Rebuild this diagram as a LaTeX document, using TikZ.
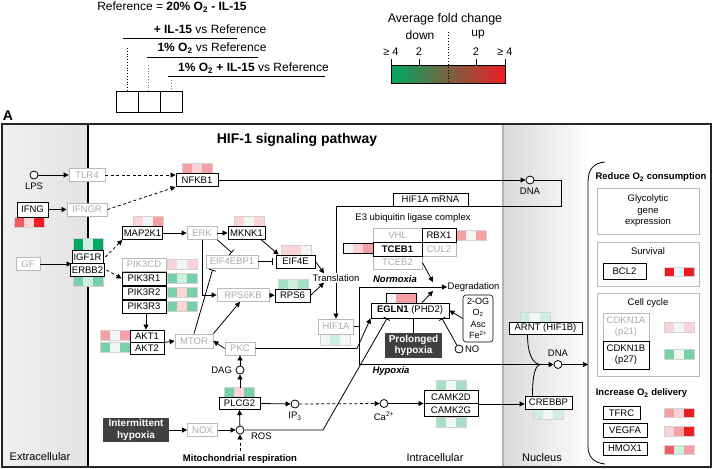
\documentclass[tikz,border=0pt]{standalone}
\usepackage{fontspec}
\setmainfont{Liberation Sans}
\usetikzlibrary{arrows.meta, positioning}

\definecolor{hR}{RGB}{237,28,36}
\definecolor{hRp}{RGB}{239,90,100}
\definecolor{hP}{RGB}{245,160,165}
\definecolor{hPp}{RGB}{250,212,214}
\definecolor{hW}{RGB}{242,246,244}
\definecolor{hGp}{RGB}{205,238,224}
\definecolor{hGm}{RGB}{165,224,198}
\definecolor{hG}{RGB}{120,208,170}
\definecolor{hGd}{RGB}{0,168,96}

% three fold change cells, top left corner at (#2,#3)
\newcommand{\hmap}[6][10]{%
  \foreach \hc [count = \hi from 0] in {#4,#5,#6}
    \fill[\hc] (#2+\hi*10,#3) rectangle ++(10,#1);
  \draw[hmline] (#2,#3) rectangle ++(30,#1);}

\begin{document}
\begin{tikzpicture}[x = 1pt, y = -1pt, font = \fontsize{9.5}{11}\selectfont,
    box/.style = {draw, fill = white, line width = 0.9pt, inner sep = 1pt, minimum height = 13pt},
    gbox/.style = {box, draw = gray!55, text = gray!65, line width = 0.8pt},
    dbox/.style = {fill = black!75, text = white, align = center, inner sep = 2pt,
        font = \fontsize{10}{11.5}\selectfont\bfseries},
    mol/.style = {circle, draw, fill = white, minimum size = 8pt, inner sep = 0pt, line width = 0.8pt},
    lbl/.style = {inner sep = 0.5pt},
    bf/.style = {lbl, font = \fontsize{9.5}{11}\selectfont\bfseries},
    cmp/.style = {lbl, font = \fontsize{11}{13}\selectfont},
    hdr/.style = {lbl, font = \fontsize{12}{14}\selectfont},
    panel/.style = {draw = gray!55, line width = 0.7pt},
    hmline/.style = {draw = gray!35, line width = 0.4pt},
    con/.style = {line width = 0.8pt},
    act/.style = {con, -{Triangle[length = 5pt, width = 5pt]}},
    inh/.style = {con, -{Bar[width = 7pt]}},
    ind/.style = {act, dash pattern = on 3pt off 2.5pt}]
\useasboundingbox (0,0) rectangle (713,469);

% legend
\node[hdr] (ref) at (172,7) {Reference = \textbf{20\% O\textsubscript{2} - IL-15}};
\node[hdr] (cmp1) at (210,29) {\textbf{+ IL-15} vs Reference};
\node[hdr] (cmp2) at (212,48) {\textbf{1\% O\textsubscript{2}} vs Reference};
\node[hdr] (cmp3) at (253.5,68) {\textbf{1\% O\textsubscript{2} + IL-15} vs Reference};
\draw[con] (123,38) -- (237,38);
\draw[con] (147,57) -- (258,57);
\draw[con] (168,76) -- (325,76);
\draw[dotted, line width = 0.8pt] (127,48) -- (127,91);
\draw[dotted, line width = 0.8pt, gray] (148,65) -- (148,91);
\draw[dotted, line width = 0.8pt, gray] (171,80) -- (171,91);
\draw[con] (116,91) rectangle (182,112) (138,91) -- (138,112) (160,91) -- (160,112);

\node[hdr, font = \fontsize{12.5}{14}\selectfont] (avg) at (445,19) {Average fold change};
\node[hdr] (down) at (420,35) {down};
\node[hdr] (up) at (478,35) {up};
\foreach \tx/\tl [count = \ti] in {391/{≥ 4}, 419/2, 476/2, 505/{≥ 4}} {
  \node[lbl, font = \fontsize{11}{13}\selectfont] (tick\ti) at (\tx,52) {\tl};
  \draw[con] (\tx,59) -- (\tx,65);
}
\shade[left color = hGd, middle color = white, right color = hR] (391,65) rectangle (505,83);
\draw[con] (391,65) rectangle (505,83);
\draw[dotted, line width = 0.9pt] (448,32) -- (448,83);

\node[lbl, font = \fontsize{14}{16}\selectfont\bfseries] (panelA) at (8,116) {A};

% compartments
\shade[left color = gray!12, right color = gray!22] (2,124) rectangle (88,467);
\shade[left color = gray!30, right color = white] (503,124) rectangle (592,467);
\draw[line width = 2.2pt] (88,124) -- (88,467);
\draw[line width = 2.6pt, gray!60] (503,124) -- (503,467);
\draw[line width = 1.3pt, black!85] (2,124) rectangle (711,467);
\node[lbl, font = \fontsize{14}{16}\selectfont\bfseries] (title) at (297,140) {HIF-1 signaling pathway};
\node[cmp] (extra) at (40,457) {Extracellular};
\node[cmp] (intra) at (435,458) {Intracellular};
\node[cmp] (nucl) at (542,458) {Nucleus};

% fold changes
\hmap{182}{163.5}{hP}{hPp}{hP}
\hmap{14}{217}{hRp}{hPp}{hR}
\hmap[12]{73}{238.5}{hGd}{hGp}{hGd}
\hmap{73}{276.5}{hG}{hGp}{hG}
\hmap{133}{216.5}{hPp}{hW}{hP}
\hmap{234}{216.5}{hPp}{hW}{hPp}
\hmap{281}{245}{hPp}{hPp}{hW}
\hmap{278}{279}{hGm}{hGp}{hGm}
\hmap{167}{259.5}{hPp}{hW}{hPp}
\hmap{167}{273.5}{hG}{hGp}{hG}
\hmap{167}{287.5}{hG}{hPp}{hG}
\hmap{167}{301.5}{hG}{hPp}{hG}
\hmap{100}{330}{hP}{hW}{hP}
\hmap{100}{342}{hG}{hW}{hG}
\hmap{224}{387.5}{hG}{hPp}{hG}
\hmap[11]{320}{334}{hW}{hGp}{hW}
\hmap{436}{380}{hGm}{hW}{hGm}
\hmap{436}{417}{hGm}{hW}{hGm}
\hmap{456}{230}{hP}{hW}{hP}
\hmap{343}{243.5}{hW}{hPp}{hP}
\hmap{386}{293}{hW}{hP}{hP}
\draw[con] (343,243.5) rectangle ++(30,10) (386,293) rectangle ++(30,10);
\hmap{520}{312}{hGp}{hW}{hGp}
\hmap{533}{409}{hGp}{hW}{hGp}
\hmap[9]{664}{267}{hR}{hW}{hR}
\hmap{664}{322}{hPp}{hW}{hPp}
\hmap{664}{349.5}{hG}{hW}{hG}
\hmap[9]{664}{408.5}{hP}{hPp}{hR}
\hmap{664}{426.5}{hPp}{hP}{hR}
\hmap[9]{664}{445}{hRp}{hGp}{hP}

% membrane
\node[mol] (lps) at (34,175) {};
\node[lbl, below = 3pt of lps] (lpslbl) {LPS};
\node[gbox, minimum width = 36pt] (tlr4) at (87,175) {TLR4};
\node[box, minimum width = 31pt, minimum height = 15pt] (ifng) at (32.5,209.5) {IFNG};
\node[gbox, minimum width = 40pt] (ifngr) at (87,209.5) {IFNGR};
\node[gbox, minimum width = 24pt] (gf) at (28,264) {GF};
\node[box, minimum width = 31pt] (igf1r) at (87.5,257) {IGF1R};
\node[box, minimum width = 31pt] (erbb2) at (87.5,270) {ERBB2};

% signalling
\node[box, minimum width = 42pt] (nfkb1) at (197,180) {NFKB1};
\node[box, minimum width = 39pt] (map2k1) at (142.5,233) {MAP2K1};
\node[gbox, minimum width = 30pt] (erk) at (202,233) {ERK};
\node[box, minimum width = 37pt] (mknk1) at (246.5,233) {MKNK1};
\node[gbox, minimum width = 52pt] (eif4ebp1) at (232,261.5) {EIF4EBP1};
\node[box, minimum width = 39pt] (eif4e) at (295.5,261.5) {EIF4E};
\node[gbox, minimum width = 52pt] (rps6kb) at (243,295) {RPS6KB};
\node[box, minimum width = 35pt] (rps6) at (292.5,295.5) {RPS6};
\node[lbl, fill = white, inner sep = 1pt] (transl) at (336,278) {Translation};
\node[gbox, minimum width = 44pt] (pik3cd) at (144,264.5) {PIK3CD};
\node[box, minimum width = 44pt] (pik3r1) at (144,278.5) {PIK3R1};
\node[box, minimum width = 44pt] (pik3r2) at (144,292.5) {PIK3R2};
\node[box, minimum width = 44pt] (pik3r3) at (144,306.5) {PIK3R3};
\node[box, minimum width = 34pt, minimum height = 12pt] (akt1) at (147,336) {AKT1};
\node[box, minimum width = 34pt, minimum height = 12pt] (akt2) at (147,348) {AKT2};
\node[gbox, minimum width = 38pt, minimum height = 14pt] (mtor) at (194,341) {MTOR};
\node[gbox, minimum width = 30pt] (pkc) at (240,348.5) {PKC};
\node[mol] (dag) at (240,370) {};
\node[lbl, left = 3pt of dag] (daglbl) {DAG};
\node[box, minimum width = 41pt, minimum height = 12pt] (plcg2) at (239.5,403.5) {PLCG2};
\coordinate (plcgtop) at (240,387.5);
\node[mol] (ip3) at (295,404) {};
\node[lbl, below = 3pt of ip3] (ip3lbl) {IP\textsubscript{3}};
\node[mol] (ca) at (384,403.5) {};
\node[lbl, below = 3pt of ca] (calbl) {Ca\textsuperscript{2+}};
\node[box, minimum width = 54pt] (camk2d) at (451,397) {CAMK2D};
\node[box, minimum width = 54pt] (camk2g) at (451,410) {CAMK2G};
\node[mol] (ros) at (240,430) {};
\node[lbl, right = 6pt of ros, yshift = -6pt] (roslbl) {ROS};
\node[gbox, minimum width = 30pt] (nox) at (202.5,430) {NOX};
\node[dbox, minimum width = 66pt, minimum height = 24pt] (ihyp) at (136,430) {Intermittent\\hypoxia};
\node[bf] (mito) at (240,459) {Mitochondrial respiration};
\coordinate (mitotop) at (240,451);

% HIF1A regulation
\node[mol] (dna1) at (530,180) {};
\node[lbl, below = 3pt of dna1] (dna1lbl) {DNA};
\node[box, minimum width = 75pt, line width = 0.8pt] (mrna) at (430.5,199.5) {HIF1A mRNA};
\node[lbl] (e3) at (413,218) {E3 ubiquitin ligase complex};
\node[gbox, minimum width = 49pt, minimum height = 14pt] (vhl) at (397.5,235) {VHL};
\node[gbox, minimum width = 34pt, minimum height = 14pt] (cul2) at (439,249) {CUL2};
\node[gbox, minimum width = 49pt] (tceb2) at (397.5,262.5) {TCEB2};
\node[box, minimum width = 34pt, minimum height = 14pt] (rbx1) at (439,235) {RBX1};
\node[box, minimum width = 49pt, minimum height = 14pt, font = \fontsize{9.5}{11}\selectfont\bfseries] (tceb1) at (397.5,249) {TCEB1};
\node[gbox, minimum width = 35pt, minimum height = 15pt] (hif1a) at (336,326.5) {HIF1A};
\node[bf, font = \fontsize{9.5}{11}\selectfont\bfseries\itshape] (normox) at (395,279) {Normoxia};
\node[bf, font = \fontsize{9.5}{11}\selectfont\bfseries\itshape] (hypox) at (391,371) {Hypoxia};
\node[lbl, anchor = west] (degr) at (447,287) {Degradation};
\node[box, minimum width = 78pt, minimum height = 15pt] (egln1) at (410,310.5) {\textbf{EGLN1} (PHD2)};
\node[box, rounded corners = 3pt, line width = 0.6pt, align = center, minimum width = 30pt,
    minimum height = 47pt, font = \fontsize{9}{11.5}\selectfont] (cof) at (478,318.5) {2-OG\\O\textsubscript{2}\\Asc\\Fe\textsuperscript{2+}};
\node[dbox, minimum width = 57pt, minimum height = 25pt] (phyp) at (413.5,345.5) {Prolonged\\hypoxia};
\node[mol] (no) at (459,349) {};
\node[lbl, right = 1pt of no] (nolbl) {NO};
\coordinate (split) at (359,326.5);
\node[box, minimum width = 73pt, minimum height = 12pt] (arnt) at (545.5,328) {ARNT (HIF1B)};
\node[mol] (dna2) at (558,364.5) {};
\node[lbl, above = 3pt of dna2] (dna2lbl) {DNA};
\coordinate (merge) at (541,364.5);
\node[box, minimum width = 47pt] (crebbp) at (548.5,402.5) {CREBBP};
\coordinate (panelin) at (588,364.5);

% responses
\draw[con] (605,162) .. controls (593,163) and (588,170) .. (588,182) -- (588,446)
    .. controls (588,457) and (594,463) .. (605,464);
\node[bf] (reduce) at (651,177) {Reduce O\textsubscript{2} consumption};
\draw[panel] (597,188) rectangle (699,234);
\node[lbl, align = center, font = \fontsize{9.5}{11.5}\selectfont] (glyco) at (648,211) {Glycolytic\\gene\\expression};
\draw[panel] (597,242) rectangle (699,286);
\node[lbl] (surv) at (648,251) {Survival};
\node[box, minimum width = 43pt, minimum height = 16pt] (bcl2) at (624.5,271) {BCL2};
\draw[panel] (597,293) rectangle (699,376);
\node[lbl] (cellcyc) at (648,303) {Cell cycle};
\node[gbox, minimum width = 46pt, minimum height = 28pt, align = center] (cdkn1a) at (626,327) {CDKN1A\\(p21)};
\node[box, minimum width = 46pt, minimum height = 28pt, align = center] (cdkn1b) at (626,355) {CDKN1B\\(p27)};
\node[bf] (increase) at (641.5,393) {Increase O\textsubscript{2} delivery};
\node[box, minimum width = 37pt] (tfrc) at (621.5,413) {TFRC};
\node[box, minimum width = 44pt, minimum height = 14pt] (vegfa) at (625,430) {VEGFA};
\node[box, minimum width = 44pt] (hmox1) at (625,448.5) {HMOX1};

% connectors
\draw[act] (lps) -- (tlr4);
\draw[ind] (tlr4.east) -- (tlr4.east -| nfkb1.west);
\draw[act] (ifng) -- (ifngr);
\draw[ind] (ifngr.east) -- (nfkb1.south west);
\draw[act] (gf) -- (gf -| igf1r.west);
\draw[ind] ([xshift = 2pt]igf1r.east) -- (map2k1.south west);
\draw[ind] ([xshift = 2pt]erbb2.east) -- (pik3r1.west);
\draw[act] (nfkb1.east) -- (dna1);
\draw[con] (dna1) -- ++(31,0) |- (mrna.south east);
\draw[con] (mrna.south west) -| (transl.north);
\draw[act] (transl.south) -- (hif1a.north);
\draw[act] (map2k1) -- (erk);
\draw[act] (erk) -- (mknk1);
\draw[inh, shorten >= 3pt] (erk.south east) -- ([xshift = 2pt]eif4ebp1.north);
\draw[inh, shorten >= 3pt] (eif4ebp1) -- (eif4e);
\draw[act] ([xshift = -4pt]mknk1.south east) -- ([xshift = 3pt]eif4e.north west);
\draw[act] (erk.south) |- (rps6kb.west);
\draw[act] (rps6kb) -- (rps6);
\draw[act] (eif4e.east) -- ([xshift = -12pt]transl.north);
\draw[act] (rps6.east) -- ([xshift = -12pt]transl.south);
\draw[act] ([xshift = 2pt]pik3r3.south) -- ([xshift = -1pt]akt1.north);
\draw[act] (akt1.south east) -- (mtor.west);
\draw[inh, shorten >= 1.5pt] (mtor.north) -- ([xshift = -19pt]eif4ebp1.south);
\draw[act] (mtor.north east) -- ([xshift = -3pt]rps6kb.south);
\draw[act] (pkc.west) -- (mtor.east);
\draw[act] (dag) -- (dag |- pkc.south);
\draw[act] (plcgtop) -- (dag);
\draw[act] (plcg2.east) -- (ip3);
\draw[ind] (ip3) -- (ca);
\draw[act] (ca) -- (ca -| camk2d.west);
\draw[act] (camk2d.south east) -- (camk2d.south east -| crebbp.west);
\draw[act] (ihyp) -- (nox);
\draw[act] (nox) -- (ros);
\draw[ind] (mitotop) -- (ros);
\draw[act] (ros) -- (plcg2.south);
\draw[inh] (ros) -- (323,430) -- ([xshift = -23pt]egln1.south);
\draw[act] (pkc.east) -- (357,348.5) -- (egln1.south west);
\draw[inh] (phyp.north) -- (phyp.north |- egln1.south);
\draw[inh] (no) -- ([xshift = 32pt]egln1.south);
\draw[act] (cof.west) -- (egln1.east);
\draw[act] ([xshift = 12pt]egln1.north) -- ([xshift = -14pt, yshift = -4pt]degr.west);
\draw[act] (tceb2.east) -- ([xshift = -14pt, yshift = 5pt]degr.west);
\draw[con] (hif1a.east) -- (split);
\draw[act] (split) |- (degr.west);
\draw[act] (split) |- (dna2);
\draw[act] (dna2) -- (panelin);
\draw[con] ([xshift = -18pt]arnt.south) .. controls +(0,20) and +(-8,0) .. (merge);
\draw[con] ([xshift = -16pt]crebbp.north) .. controls +(0,-20) and +(-6,0) .. (merge);
\end{tikzpicture}
\end{document}
